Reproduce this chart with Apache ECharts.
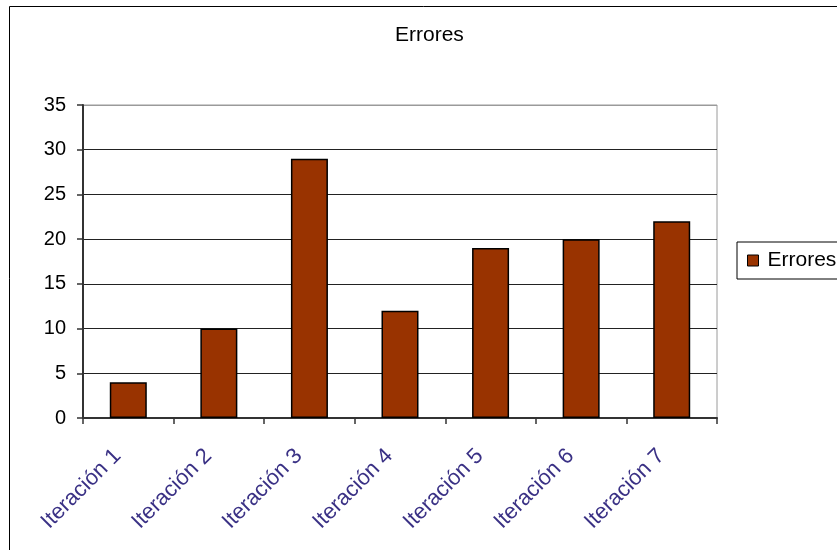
<!DOCTYPE html>
<html>
<head>
<meta charset="utf-8">
<script src="https://cdn.jsdelivr.net/npm/echarts@6/dist/echarts.min.js"></script>
<style>
  html, body { margin: 0; padding: 0; background: #fff; }
  #chart { width: 837px; height: 550px; }
</style>
</head>
<body>
<div id="chart"></div>
<script>
// Errors found in each iteration
const categories = ['Iteración 1', 'Iteración 2', 'Iteración 3', 'Iteración 4', 'Iteración 5', 'Iteración 6', 'Iteración 7'];
const errores = [4, 10, 29, 12, 19, 20, 22];
const seriesName = 'Errores';
const titleText = 'Errores';

const FONT = '"Liberation Sans", Arial, sans-serif';

const chart = echarts.init(document.getElementById('chart'), null, { renderer: 'canvas' });

chart.setOption({
  animation: false,
  backgroundColor: '#ffffff',
  title: {
    text: titleText,
    left: 395,
    top: 25,
    padding: 0,
    textStyle: { fontFamily: FONT, fontSize: 21, fontWeight: 'normal', color: '#000' }
  },
  legend: {
    data: [seriesName],
    left: 737,
    top: 242,
    padding: [8, 10, 8, 10],
    borderColor: '#000',
    borderWidth: 1,
    itemWidth: 11,
    itemHeight: 11,
    icon: 'rect',
    itemStyle: { borderColor: '#000', borderWidth: 1 },
    textStyle: { fontFamily: FONT, fontSize: 21, color: '#000', padding: [0, 0, 0, 4] }
  },
  grid: {
    left: 83,
    right: 120,
    top: 105,
    bottom: 132,
    show: true,
    borderColor: '#9a9a9a',
    borderWidth: 1,
    containLabel: false
  },
  xAxis: {
    type: 'category',
    data: categories,
    boundaryGap: true,
    axisLine: { show: true, lineStyle: { color: '#333', width: 2 } },
    axisTick: { show: true, inside: false, length: 6, lineStyle: { color: '#333', width: 1.5 } },
    axisLabel: {
      rotate: 45,
      margin: 24,
      padding: [0, 15, 0, 0],
      fontFamily: FONT,
      fontSize: 22,
      color: '#3a3185'
    },
    splitLine: { show: false }
  },
  yAxis: {
    type: 'value',
    min: 0,
    max: 35,
    interval: 5,
    axisLine: { show: true, lineStyle: { color: '#333', width: 2 } },
    axisTick: { show: true, inside: false, length: 6, lineStyle: { color: '#333', width: 1.5 } },
    axisLabel: { fontFamily: FONT, fontSize: 20, color: '#000', margin: 17 },
    splitLine: {
      show: true,
      lineStyle: { color: ['#222', '#222', '#222', '#222', '#222', '#222', '#222', '#9a9a9a'], width: 1 }
    }
  },
  series: [{
    name: seriesName,
    type: 'bar',
    data: errores,
    barWidth: 37,
    itemStyle: { color: '#993300', borderColor: '#000', borderWidth: 1.5 }
  }],
  graphic: [{
    type: 'rect',
    shape: { x: 9.5, y: 6.5, width: 900, height: 600 },
    style: { fill: 'none', stroke: '#000', lineWidth: 1 },
    silent: true,
    z: -1
  }]
});
</script>
</body>
</html>
